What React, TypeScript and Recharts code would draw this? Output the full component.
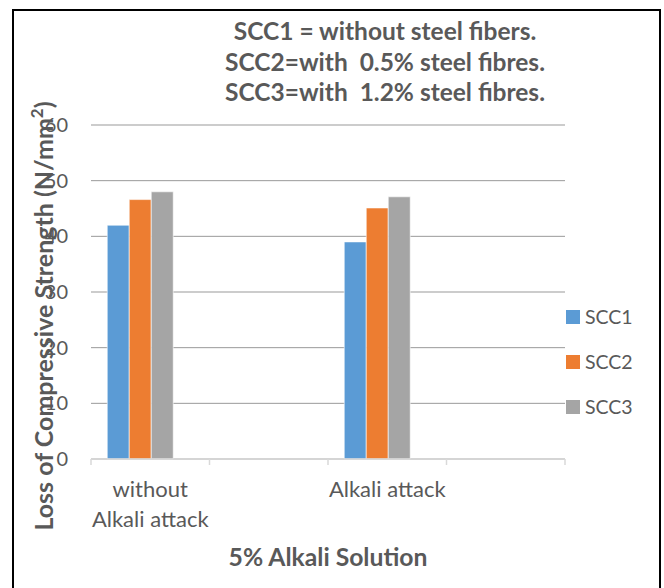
import { Bar, BarChart, CartesianGrid, Legend, XAxis, YAxis } from "recharts";

const categories = ["without\nAlkali attack", "", "Alkali attack", " "];
const scc1 = [42.0, null, 39.0, null];
const scc2 = [46.6, null, 45.1, null];
const scc3 = [48.0, null, 47.1, null];
const seriesNames = ["SCC1", "SCC2", "SCC3"];
const seriesColors = ["#5b9bd5", "#ed7d31", "#a5a5a5"];
const yTicks = [0, 10, 20, 30, 40, 50, 60];
const titleLines = [
    "SCC1 = without steel fibers.",
    "SCC2=with  0.5% steel fibres.",
    "SCC3=with  1.2% steel fibres.",
];

const font = "Lato, 'Open Sans', sans-serif";
const textColor = "#595959";
const axisColor = "#d9d9d9";

const data = categories.map((name, i) => ({
    name,
    SCC1: scc1[i],
    SCC2: scc2[i],
    SCC3: scc3[i],
    pad: null,
}));

// category label plus tick marks on the band edges, like Excel
function CategoryTick({ x, y, payload, index }: any) {
    const lines = String(payload.value).split("\n");
    const half = payload.offset || 0;
    const last = index === categories.length - 1;
    return (
        <g>
            <line x1={x - half} x2={x - half} y1={y} y2={y + 6} stroke={axisColor} strokeWidth={1.5} />
            {last && <line x1={x + half} x2={x + half} y1={y} y2={y + 6} stroke={axisColor} strokeWidth={1.5} />}
            <text x={x} y={y + 38} textAnchor="middle" fill={textColor} fontFamily={font} fontSize={22}>
                {lines.map((line, i) => (
                    <tspan key={i} x={x} dy={i === 0 ? 0 : 30}>
                        {line}
                    </tspan>
                ))}
            </text>
        </g>
    );
}

function LegendBox({ payload }: any) {
    const items = (payload || []).filter((entry: any) => seriesNames.includes(entry.value));
    return (
        <div>
            {items.map((entry: any) => (
                <div
                    key={entry.value}
                    style={{ height: 45, display: "flex", alignItems: "center", fontFamily: font, fontSize: 19.5, color: textColor }}
                >
                    <span style={{ width: 14, height: 14, background: entry.color, marginRight: 5, display: "inline-block" }} />
                    <span>{entry.value}</span>
                </div>
            ))}
        </div>
    );
}

export default function App() {
    return (
        <div style={{ position: "absolute", left: 0, top: 0, width: 664, height: 588, background: "#fff", overflow: "hidden" }}>
            <div
                style={{
                    position: "absolute",
                    left: 12,
                    top: 9,
                    width: 649,
                    height: 600,
                    border: "2px solid #000",
                    boxSizing: "border-box",
                }}
            />
            <BarChart
                width={664}
                height={588}
                data={data}
                margin={{ top: 125, right: 99, bottom: 69, left: 0 }}
                barCategoryGap="13.7%"
                barGap={0}
            >
                <CartesianGrid vertical={false} stroke="#999" />
                <XAxis
                    dataKey="name"
                    height={60}
                    stroke={axisColor}
                    strokeWidth={1.5}
                    tickLine={false}
                    tickSize={0}
                    tickMargin={0}
                    interval={0}
                    tick={<CategoryTick />}
                />
                <YAxis
                    width={91}
                    domain={[0, 60]}
                    ticks={yTicks}
                    axisLine={false}
                    tickLine={false}
                    tickMargin={17}
                    tick={{ fill: textColor, fontFamily: font, fontSize: 20 }}
                />
                {seriesNames.map((name, i) => (
                    <Bar
                        key={name}
                        dataKey={name}
                        fill={seriesColors[i]}
                        stroke="#fff"
                        strokeWidth={0.6}
                        isAnimationActive={false}
                    />
                ))}
                {/* empty fourth series keeps the bar groups off-centre as in the original */}
                <Bar dataKey="pad" legendType="none" fill="none" isAnimationActive={false} />
                <Legend
                    layout="vertical"
                    align="center"
                    verticalAlign="middle"
                    wrapperStyle={{ left: 566, top: 294, width: 95 }}
                    content={<LegendBox />}
                />
            </BarChart>
            <svg
                width={664}
                height={588}
                style={{ position: "absolute", left: 0, top: 0, pointerEvents: "none" }}
            >
                {titleLines.map((line, i) => (
                    <text
                        key={i}
                        x={385}
                        y={40 + i * 30.5}
                        textAnchor="middle"
                        fill={textColor}
                        fontFamily={font}
                        fontWeight="bold"
                        fontSize={24.5}
                        style={{ whiteSpace: "pre" }}
                    >
                        {line}
                    </text>
                ))}
                <text
                    transform="translate(53, 316) rotate(-90)"
                    textAnchor="middle"
                    fill={textColor}
                    fontFamily={font}
                    fontWeight="bold"
                    fontSize={25}
                >
                    Loss of Compressive Strength (N/mm
                    <tspan fontSize={17} dy={-10}>2</tspan>
                    <tspan dy={10}>)</tspan>
                </text>
                <text
                    x={328}
                    y={566}
                    textAnchor="middle"
                    fill={textColor}
                    fontFamily={font}
                    fontWeight="bold"
                    fontSize={24.7}
                >
                    5% Alkali Solution
                </text>
            </svg>
        </div>
    );
}
